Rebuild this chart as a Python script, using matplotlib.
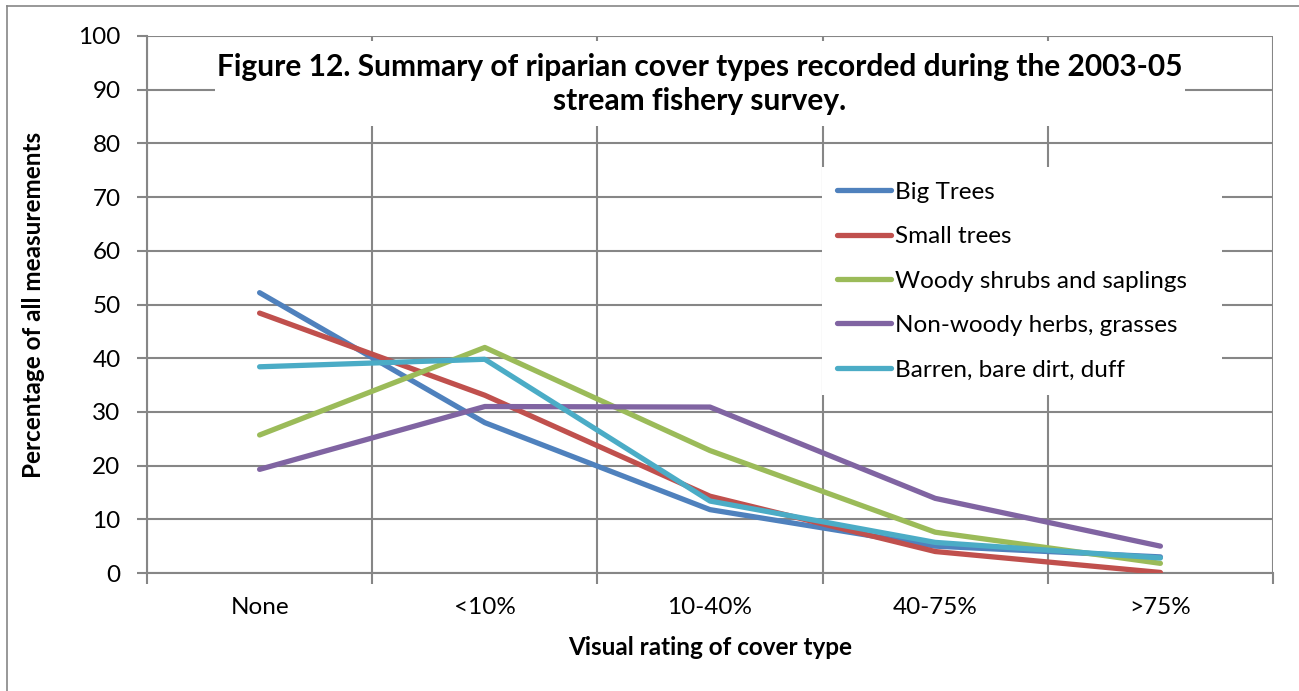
import matplotlib
matplotlib.use("Agg")
import matplotlib.pyplot as plt
from matplotlib.lines import Line2D
from matplotlib.patches import Rectangle

plt.rcParams['font.family'] = ['Lato', 'DejaVu Sans']

# data
categories = ['None', '<10%', '10-40%', '40-75%', '>75%']
big_trees = [52.2, 28.0, 11.8, 5.0, 3.0]
small_trees = [48.4, 33.1, 14.3, 4.0, 0.1]
woody_shrubs = [25.7, 42.0, 22.8, 7.6, 1.8]
non_woody = [19.3, 31.0, 30.9, 13.9, 5.0]
barren = [38.4, 39.8, 13.4, 5.7, 2.8]

names = ['Big Trees', 'Small trees', 'Woody shrubs and saplings',
         'Non-woody herbs, grasses', 'Barren, bare dirt, duff']
colors = ['#4F81BD', '#C0504D', '#9BBB59', '#8064A2', '#4BACC6']

W, H = 1299, 691
fig = plt.figure(figsize=(W / 100, H / 100), dpi=100)
ax = fig.add_axes([147 / W, 1 - 573 / H, (1273 - 147) / W, (573 - 36) / H])

grid_col = '#868686'
fs = 17.5
x = list(range(len(categories)))
series = [big_trees, small_trees, woody_shrubs, non_woody, barren]
for vals, nm, c in zip(series, names, colors):
    ax.plot(x, vals, color=c, lw=3.8, label=nm, solid_capstyle='round',
            solid_joinstyle='round', zorder=3)

ax.set_xlim(-0.5, 4.5)
ax.set_ylim(0, 100)
ax.set_yticks(range(0, 101, 10))
ax.set_xticks(x)
ax.set_xticklabels(categories)
ax.set_xticks([i - 0.5 for i in range(6)], minor=True)
ax.grid(True, axis='y', which='major', color=grid_col, lw=1.5, zorder=0)
ax.grid(True, axis='x', which='minor', color=grid_col, lw=1.5, zorder=0)
ax.tick_params(axis='x', which='major', length=0, pad=17, labelsize=fs)
ax.tick_params(axis='x', which='minor', length=8, width=1.5, color=grid_col)
ax.tick_params(axis='y', length=7, width=1.5, color=grid_col, pad=12, labelsize=fs)
for s in ['top', 'right']:
    ax.spines[s].set_visible(False)
for s in ['left', 'bottom']:
    ax.spines[s].set_color(grid_col)
    ax.spines[s].set_linewidth(1.5)

ax.set_xlabel('Visual rating of cover type', fontsize=fs, fontweight='bold', labelpad=13)
ax.set_ylabel('Percentage of all measurements', fontsize=fs, fontweight='bold', labelpad=24)

# white boxes behind the title and the legend (cover the gridlines only)
ax.add_patch(Rectangle((215 / W, 1 - 126 / H), (1185 - 215) / W, (126 - 41) / H,
                       transform=fig.transFigure, facecolor='white',
                       edgecolor='none', zorder=2, clip_on=False))
ax.add_patch(Rectangle((822 / W, 1 - 395 / H), (1222 - 822) / W, (395 - 167) / H,
                       transform=fig.transFigure, facecolor='white',
                       edgecolor='none', zorder=2, clip_on=False))
fig.text(700 / W, 1 - 84 / H,
         'Figure 12. Summary of riparian cover types recorded during the 2003-05\nstream fishery survey.',
         ha='center', va='center', fontsize=21.5, fontweight='bold', linespacing=1.25, zorder=5)

leg = ax.legend(loc='upper left', bbox_to_anchor=((822 - 147) / (1273 - 147), 1 - (167 - 36) / (573 - 36)),
                fontsize=fs, frameon=False, handlelength=2.25,
                handletextpad=0.15, labelspacing=0.965, borderpad=0.6, borderaxespad=0)

# outer chart border
fig.add_artist(Line2D([7 / W, 7 / W], [0, 1 - 6 / H], transform=fig.transFigure, color=grid_col, lw=1.2))
fig.add_artist(Line2D([7 / W, 1], [1 - 6 / H, 1 - 6 / H], transform=fig.transFigure, color=grid_col, lw=1.2))

fig.savefig('out.png', dpi=100)
